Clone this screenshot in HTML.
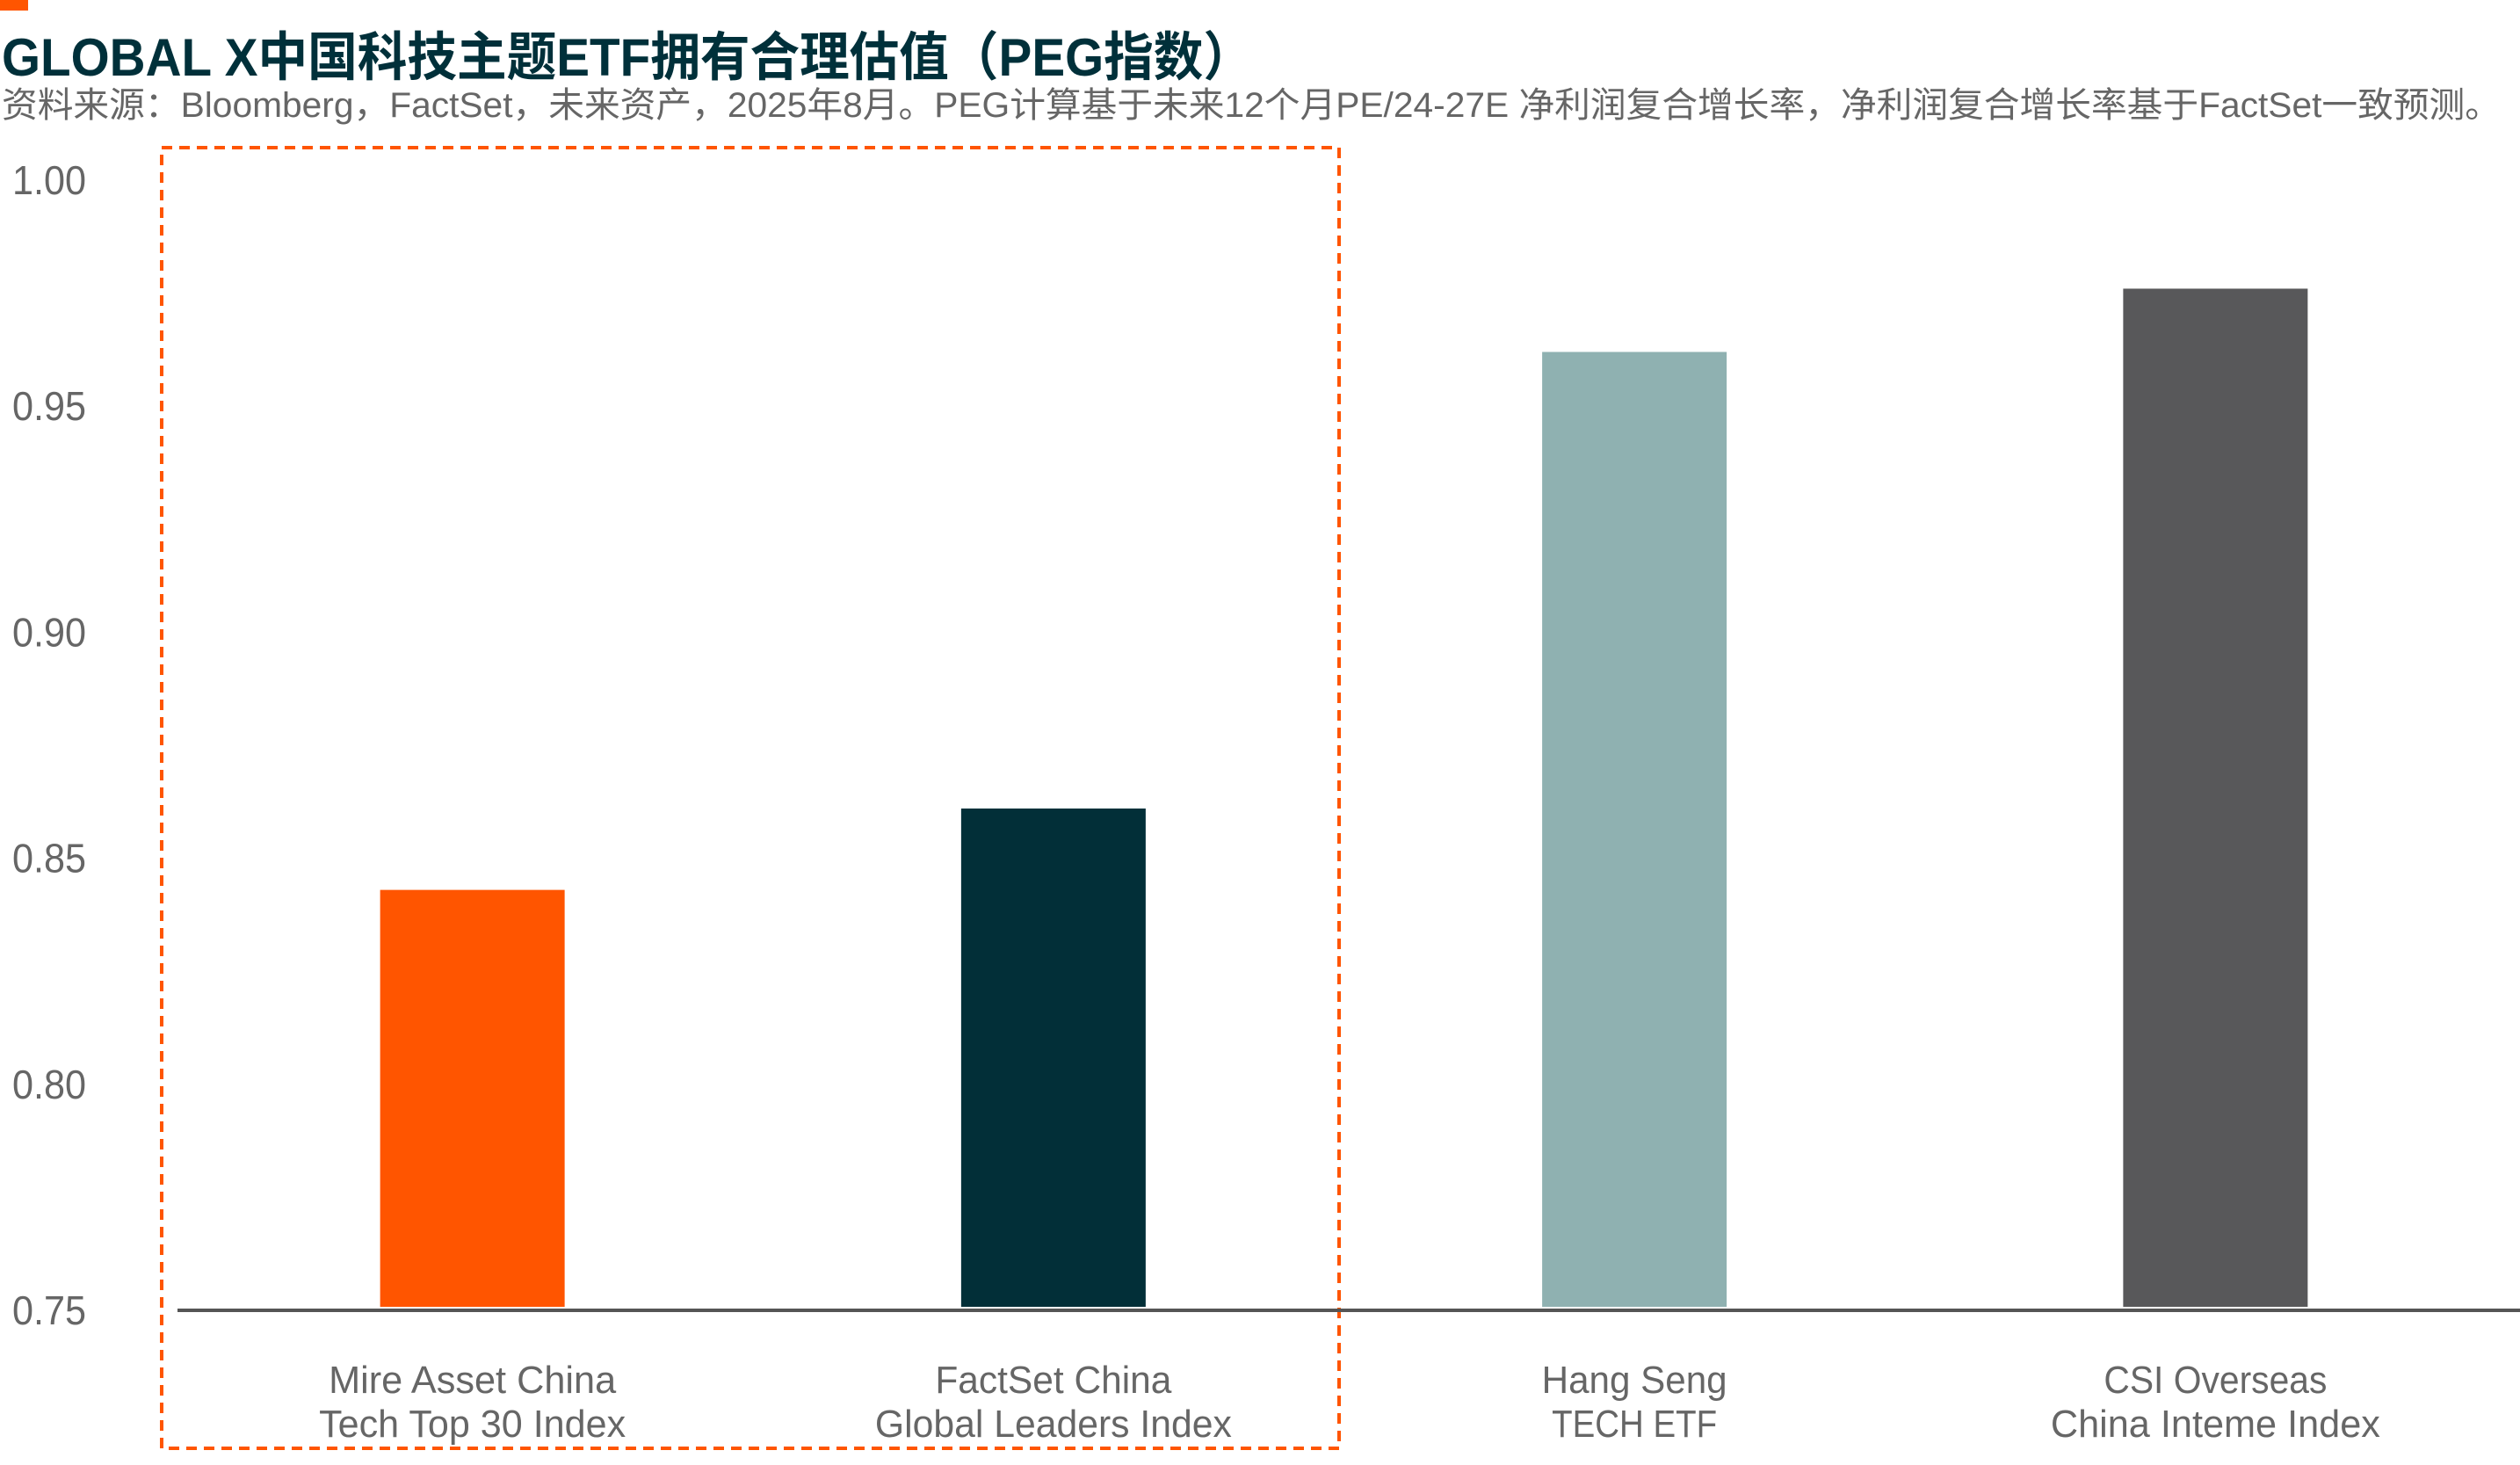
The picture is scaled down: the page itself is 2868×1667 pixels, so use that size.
<!DOCTYPE html>
<html><head><meta charset="utf-8">
<style>
html,body{margin:0;padding:0;background:#fff;}
svg{display:block;font-family:"Liberation Sans","Noto Sans CJK SC",sans-serif;}
</style></head>
<body>
<svg id="chart" width="2868" height="1667" viewBox="0 0 2868 1667" xmlns="http://www.w3.org/2000/svg">
  <rect x="0" y="0" width="32" height="12" fill="#ff5500"/>
  <text x="2" y="86" font-size="60" font-weight="bold" fill="#00303a" textLength="1424" lengthAdjust="spacingAndGlyphs">GLOBAL X中国科技主题ETF拥有合理估值（PEG指数）</text>
  <text x="2" y="133" font-size="40" fill="#666666" textLength="2844" lengthAdjust="spacingAndGlyphs">资料来源：Bloomberg，FactSet，未来资产，2025年8月。PEG计算基于未来12个月PE/24-27E 净利润复合增长率，净利润复合增长率基于FactSet一致预测。</text>
  <rect x="184" y="168" width="1340" height="1480" fill="none" stroke="#ff5500" stroke-width="4" stroke-dasharray="12,8"/>
  <g id="yaxis"></g>
  <g id="bars"></g>
  <line x1="202" y1="1491" x2="2868" y2="1491" stroke="#555555" stroke-width="4"/>
  <g id="xlabels"></g>
</svg>
<script>
const categoriesLine1 = ["Mire Asset China", "FactSet China", "Hang Seng", "CSI Overseas"];
const categoriesLine2 = ["Tech Top 30 Index", "Global Leaders Index", "TECH ETF", "China Inteme Index"];
const pegValues = [0.843, 0.861, 0.962, 0.976];
const barColors = ["#ff5500", "#022f38", "#8fb1b1", "#58585a"];
const yTicks = [0.75, 0.80, 0.85, 0.90, 0.95, 1.00];
const yTickLabels = ["0.75", "0.80", "0.85", "0.90", "0.95", "1.00"];

const NS = "http://www.w3.org/2000/svg";
const yMin = 0.75, yMax = 1.00, yPixMin = 1491, yPixMax = 205;
function yScale(v){ return yPixMin - (v - yMin) / (yMax - yMin) * (yPixMin - yPixMax); }
const xStart = 207, xEnd = 2852;
function xCenter(i){ const bw = (xEnd - xStart) / categoriesLine1.length; return xStart + bw * (i + 0.5); }
const barWidth = 210;

const yG = document.getElementById('yaxis');
yTicks.forEach((t, i) => {
  const tx = document.createElementNS(NS, 'text');
  
  
  tx.setAttribute('x', 14);
  tx.setAttribute('y', yScale(t) + 16);
  tx.setAttribute('font-size', '46');
  tx.setAttribute('fill', '#666666');
  tx.setAttribute('textLength', '84');
  tx.setAttribute('lengthAdjust', 'spacingAndGlyphs');
  tx.textContent = yTickLabels[i];
  yG.appendChild(tx);
});

const bG = document.getElementById('bars');
const xG = document.getElementById('xlabels');
const l1Len = [327, 269, 211, 254];
const l2Len = [349, 406, 188, 375];
pegValues.forEach((v, i) => {
  const r = document.createElementNS(NS, 'rect');
  
  
  const cx = xCenter(i);
  r.setAttribute('x', cx - barWidth / 2);
  r.setAttribute('y', yScale(v));
  r.setAttribute('width', barWidth);
  r.setAttribute('height', yPixMin - 4 - yScale(v));
  r.setAttribute('fill', barColors[i]);
  bG.appendChild(r);

  const t1 = document.createElementNS(NS, 'text');
  
  
  t1.setAttribute('x', cx);
  t1.setAttribute('y', 1585);
  t1.setAttribute('text-anchor', 'middle');
  t1.setAttribute('font-size', '44');
  t1.setAttribute('fill', '#666666');
  t1.setAttribute('textLength', l1Len[i]);
  t1.setAttribute('lengthAdjust', 'spacingAndGlyphs');
  t1.textContent = categoriesLine1[i];
  xG.appendChild(t1);

  const t2 = document.createElementNS(NS, 'text');
  
  
  t2.setAttribute('x', cx);
  t2.setAttribute('y', 1635);
  t2.setAttribute('text-anchor', 'middle');
  t2.setAttribute('font-size', '44');
  t2.setAttribute('fill', '#666666');
  t2.setAttribute('textLength', l2Len[i]);
  t2.setAttribute('lengthAdjust', 'spacingAndGlyphs');
  t2.textContent = categoriesLine2[i];
  xG.appendChild(t2);
});
</script>
</body></html>
